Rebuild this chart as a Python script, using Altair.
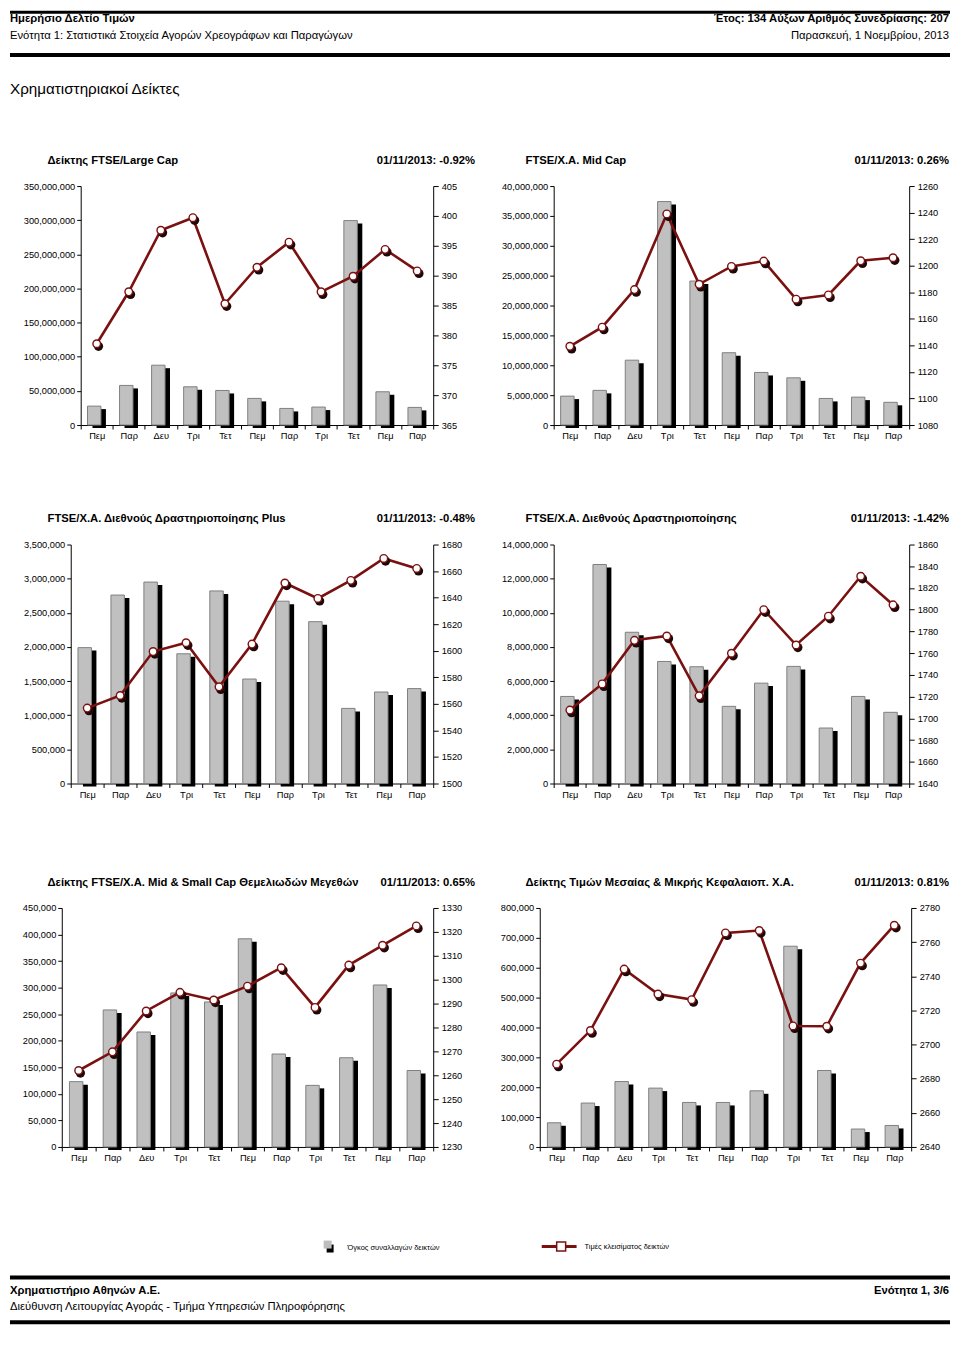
import json
import altair as alt
import pandas as pd

# ---------------- data ----------------
DAYS = ["Πεμ", "Παρ", "Δευ", "Τρι", "Τετ", "Πεμ", "Παρ", "Τρι", "Τετ", "Πεμ", "Παρ"]

TITLES = [
    "Δείκτης FTSE/Large Cap",
    "FTSE/Χ.Α. Mid Cap",
    "FTSE/Χ.Α. Διεθνούς Δραστηριοποίησης Plus",
    "FTSE/Χ.Α. Διεθνούς Δραστηριοποίησης",
    "Δείκτης FTSE/Χ.Α. Mid & Small Cap Θεμελιωδών Μεγεθών",
    "Δείκτης Τιμών Μεσαίας & Μικρής Κεφαλαιοπ.  Χ.Α.",
]
DATES = [
    "01/11/2013: -0.92%",
    "01/11/2013: 0.26%",
    "01/11/2013: -0.48%",
    "01/11/2013: -1.42%",
    "01/11/2013: 0.65%",
    "01/11/2013: 0.81%",
]

VOL_LARGE = [27.7e6, 58.0e6, 87.6e6, 56.0e6, 50.6e6, 39.0e6, 24.3e6, 26.3e6, 299.4e6, 48.7e6, 25.8e6]
CLOSE_LARGE = [378.6, 387.3, 397.6, 399.7, 385.3, 391.4, 395.6, 387.3, 389.9, 394.4, 390.8]

VOL_MID = [4.84e6, 5.8e6, 10.85e6, 37.4e6, 24.1e6, 12.1e6, 8.8e6, 7.9e6, 4.45e6, 4.67e6, 3.8e6]
CLOSE_MID = [1139.3, 1153.7, 1182.0, 1239.0, 1186.0, 1199.5, 1203.5, 1174.8, 1178.0, 1203.7, 1206.0]

VOL_PLUS = [1.99e6, 2.76e6, 2.95e6, 1.90e6, 2.82e6, 1.53e6, 2.67e6, 2.37e6, 1.10e6, 1.34e6, 1.39e6]
CLOSE_PLUS = [1556.8, 1566.3, 1599.4, 1606.0, 1572.8, 1605.0, 1651.0, 1639.4, 1653.0, 1669.5, 1662.0]

VOL_INTL = [5.10e6, 12.83e6, 8.86e6, 7.15e6, 6.84e6, 4.52e6, 5.88e6, 6.86e6, 3.25e6, 5.10e6, 4.17e6]
CLOSE_INTL = [1707.6, 1731.7, 1771.8, 1775.8, 1720.7, 1759.9, 1800.0, 1767.5, 1794.0, 1830.8, 1804.5]

VOL_MSC = [123e3, 258e3, 216.5e3, 290e3, 273e3, 392e3, 175e3, 116e3, 168e3, 305e3, 144e3]
CLOSE_MSC = [1262.0, 1269.8, 1286.9, 1294.7, 1291.5, 1297.3, 1305.0, 1288.4, 1306.1, 1314.4, 1322.5]

VOL_SMALL = [81e3, 147e3, 219e3, 197e3, 149e3, 149e3, 188e3, 672e3, 256e3, 60e3, 72e3]
CLOSE_SMALL = [2688.5, 2708.2, 2744.2, 2729.6, 2726.3, 2765.4, 2766.8, 2710.9, 2710.7, 2747.7, 2769.9]

LEGEND_BAR = "Όγκος συναλλαγών δεικτών"
LEGEND_LINE = "Τιμές κλεισίματος δεικτών"

HEAD_L1 = "Ημερήσιο Δελτίο Τιμών"
HEAD_R1 = "Έτος: 134 Αύξων Αριθμός Συνεδρίασης: 207"
HEAD_L2 = "Ενότητα 1: Στατιστικά Στοιχεία Αγορών Χρεογράφων και Παραγώγων"
HEAD_R2 = "Παρασκευή, 1 Νοεμβρίου, 2013"
SECTION = "Χρηματιστηριακοί Δείκτες"
FOOT_L1 = "Χρηματιστήριο Αθηνών Α.Ε."
FOOT_R1 = "Ενότητα 1, 3/6"
FOOT_L2 = "Διεύθυνση Λειτουργίας Αγοράς - Τμήμα Υπηρεσιών Πληροφόρησης"

# ---------------- style ----------------
FONT = "Liberation Sans, Arial, sans-serif"
GREY = "#c0c0c0"
GREY_EDGE = "#7f7f7f"
LINE_C = "#7a1010"
BALL_C = "#1e0808"
BW = 13.5
PH = 240
M = 8  # page margin
W = 944
RIGHT = 943  # right edge for right-aligned texts (chart coords)


def one():
    return pd.DataFrame({"a": [0]})


def spacer(w, h):
    return (
        alt.Chart(one())
        .mark_rule(opacity=0)
        .encode(x=alt.value(1), y=alt.value(1), y2=alt.value(2))
        .properties(width=w, height=h)
    )


def txt(t, x, y, align="left", size=11.3, weight="normal"):
    return (
        alt.Chart(pd.DataFrame({"t": [t]}))
        .mark_text(align=align, baseline="middle", font=FONT, fontSize=size,
                   fontWeight=weight, color="black")
        .encode(text="t:N", x=alt.value(x), y=alt.value(y))
    )


def hrule(x1, x2, y, sw, color="black"):
    return (
        alt.Chart(one())
        .mark_rule(color=color, strokeWidth=sw)
        .encode(x=alt.value(x1), x2=alt.value(x2), y=alt.value(y))
    )


def box(x1, x2, y1, y2, fill, stroke=None, sw=0):
    kw = dict(fill=fill)
    if stroke:
        kw.update(stroke=stroke, strokeWidth=sw)
    return (
        alt.Chart(one())
        .mark_rect(**kw)
        .encode(x=alt.value(x1), x2=alt.value(x2), y=alt.value(y1), y2=alt.value(y2))
    )


def axis_common(**kw):
    return alt.Axis(title=None, grid=False, domainColor="black", tickColor="black",
                    labelColor="black", labelFont=FONT, labelFontSize=9.3,
                    labelOverlap=False, **kw)


def panel(vol, close, vmax, vstep, cmin, cmax, cstep, w, title, date, plot_left, col):
    df = pd.DataFrame({"i": list(range(len(DAYS))), "vol": vol, "close": close})
    base = alt.Chart(df)
    lab = json.dumps(DAYS, ensure_ascii=False) + "[datum.value]"
    X = alt.X("i:O", scale=alt.Scale(paddingInner=0, paddingOuter=0),
              axis=axis_common(labelExpr=lab, labelAngle=0, tickBand="extent",
                               tickSize=4, labelPadding=3))
    vvals = [k * vstep for k in range(int(round(vmax / vstep)) + 1)]
    cvals = [cmin + k * cstep for k in range(int(round((cmax - cmin) / cstep)) + 1)]
    Yv = alt.Y("vol:Q", scale=alt.Scale(domain=[0, vmax], nice=False),
               axis=axis_common(orient="left", values=vvals, format=",.0f",
                                tickSize=4, labelPadding=2))
    Yc = alt.Y("close:Q", scale=alt.Scale(domain=[cmin, cmax], nice=False, zero=False),
               axis=axis_common(orient="right", values=cvals, format="d",
                                tickSize=5, labelPadding=3))

    shadow = base.mark_bar(color="black", width=BW, xOffset=2.5, yOffset=3).encode(x=X, y=Yv)
    bars = base.mark_bar(fill=GREY, stroke=GREY_EDGE, strokeWidth=1, width=BW,
                         xOffset=-2.5).encode(x=X, y=Yv)
    line = base.mark_line(color=LINE_C, strokeWidth=2.6).encode(x=X, y=Yc)
    ball = base.mark_circle(color=BALL_C, size=85, opacity=1, xOffset=1.8,
                            yOffset=2.6).encode(x=X, y=Yc)
    dot = base.mark_circle(fill="white", stroke=LINE_C, strokeWidth=1.4, size=58,
                           opacity=1).encode(x=X, y=Yc)

    t_page = 45.7 if col == 0 else 525.7
    d_page = 475 if col == 0 else RIGHT + M
    t1 = txt(title, t_page - plot_left, -25.5, weight="bold")
    t2 = txt(date, d_page - plot_left, -25.5, align="right", weight="bold")

    return (
        alt.layer(alt.layer(shadow, bars), alt.layer(line, ball, dot), t1, t2)
        .resolve_scale(y="independent")
        .properties(width=w, height=PH)
    )


def row(pa, pb, left_a, w_a, left_b, w_b):
    return alt.hconcat(
        spacer(left_a - M, PH), pa,
        spacer(left_b - (left_a + w_a), PH), pb,
        spacing=0, bounds="flush",
    )


# ---------------- header ----------------
header = alt.layer(
    hrule(0, W, 1.5, 3),
    txt(HEAD_L1, 0, 8, weight="bold"),
    txt(HEAD_R1, RIGHT, 8, align="right", weight="bold"),
    txt(HEAD_L2, 0, 25),
    txt(HEAD_R2, RIGHT, 25, align="right"),
    hrule(0, W, 44.5, 4),
    txt(SECTION, 0, 79, size=15.3),
).properties(width=W, height=176)

# ---------------- panels ----------------
p1 = panel(VOL_LARGE, CLOSE_LARGE, 350_000_000, 50_000_000, 365, 405, 5, 354, TITLES[0], DATES[0], 79, 0)
p2 = panel(VOL_MID, CLOSE_MID, 40_000_000, 5_000_000, 1080, 1260, 20, 357, TITLES[1], DATES[1], 554, 1)
p3 = panel(VOL_PLUS, CLOSE_PLUS, 3_500_000, 500_000, 1500, 1680, 20, 364, TITLES[2], DATES[2], 69, 0)
p4 = panel(VOL_INTL, CLOSE_INTL, 14_000_000, 2_000_000, 1640, 1860, 20, 357, TITLES[3], DATES[3], 554, 1)
p5 = panel(VOL_MSC, CLOSE_MSC, 450_000, 50_000, 1230, 1330, 10, 373, TITLES[4], DATES[4], 60, 0)
p6 = panel(VOL_SMALL, CLOSE_SMALL, 800_000, 100_000, 2640, 2780, 20, 373, TITLES[5], DATES[5], 540, 1)

row1 = row(p1, p2, 79, 354, 554, 357)
row2 = row(p3, p4, 69, 364, 554, 357)
row3 = row(p5, p6, 60, 373, 540, 373)

# ---------------- footer (legend + page footer) ----------------
footer = alt.layer(
    box(318, 325, 98, 106, "black"),
    box(315, 323, 94, 102, "#bdbdbd"),
    txt(LEGEND_BAR, 339, 101, size=7.5),
    hrule(534, 569, 100, 3, LINE_C),
    box(549, 558, 95.5, 104.5, "white", LINE_C, 1.5),
    txt(LEGEND_LINE, 577, 100, size=7.5),
    hrule(0, W, 131, 4),
    txt(FOOT_L1, 0, 145, weight="bold"),
    txt(FOOT_R1, RIGHT, 145, align="right", weight="bold"),
    txt(FOOT_L2, 0, 161),
    hrule(0, W, 176, 4),
).properties(width=W, height=178)

# nested concat rows take no height in a flush layout, so the spacers after
# each row carry the row's plot height plus the gap to the next block
chart = alt.vconcat(
    header,
    row1, spacer(W, PH + 120),
    row2, spacer(W, PH + 125),
    row3, spacer(W, PH),
    footer,
    spacing=0, bounds="flush",
).properties(padding=0).configure_view(stroke=None)

chart.save("out.html", embed_options={"renderer": "svg", "actions": False})
